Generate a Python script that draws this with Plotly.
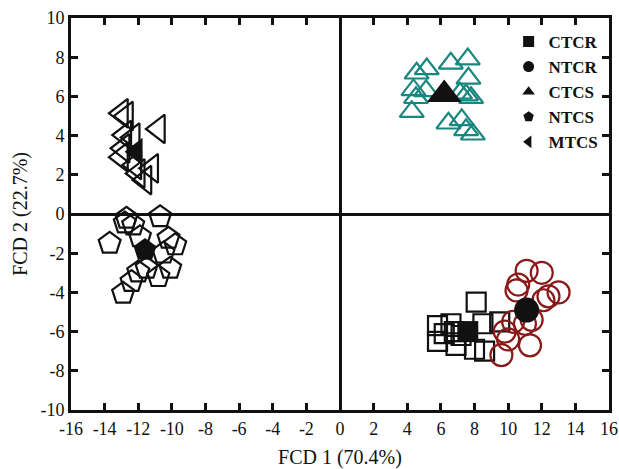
import plotly.graph_objects as go

# ---- data ----
ctcr_x = [5.8, 5.8, 6.6, 6.9, 8.1, 8.5, 9.5, 8.0, 8.6, 7.2, 6.2, 6.8]
ctcr_y = [-5.7, -6.5, -5.6, -6.7, -4.5, -5.6, -5.5, -6.9, -7.0, -6.2, -6.1, -6.0]
ctcr_c = [7.6, -6.0]

ntcr_x = [11.1, 12.0, 10.6, 10.5, 12.4, 13.0, 12.1, 11.4, 11.0, 9.8, 10.0, 11.3, 9.6, 10.3]
ntcr_y = [-2.9, -3.0, -3.6, -3.9, -4.2, -4.0, -4.4, -5.4, -5.6, -6.0, -6.4, -6.7, -7.2, -5.5]
ntcr_c = [11.1, -4.9]

ctcs_x = [4.56, 5.16, 6.59, 7.6, 7.64, 4.37, 5.12, 4.52, 4.27, 7.14, 7.5, 7.8, 6.45, 7.24, 7.5, 7.9]
ctcs_y = [7.18, 7.4, 7.69, 7.9, 6.92, 6.33, 6.28, 5.93, 5.22, 6.16, 6.07, 5.93, 4.63, 4.8, 4.29, 4.07]
ctcs_c = [6.2, 6.1]

ntcs_x = [-10.7, -12.7, -12.8, -12.3, -13.7, -11.9, -10.2, -9.8, -10.5, -10.1, -11.5, -10.8, -12.4, -12.9, -12.0]
ntcs_y = [-0.14, -0.22, -0.46, -0.56, -1.5, -1.16, -1.24, -1.58, -2.0, -2.77, -2.77, -3.2, -3.45, -4.05, -2.96]
ntcs_c = [-11.6, -1.84]

mtcs_x = [-13.0, -12.7, -10.8, -12.8, -12.3, -12.9, -13.0, -12.2, -12.0, -11.6, -11.2]
mtcs_y = [5.14, 5.0, 4.34, 4.03, 3.9, 3.35, 2.9, 2.5, 2.07, 1.73, 2.33]
mtcs_c = [-12.1, 3.18]

x_ticks = list(range(-16, 17, 2))
y_ticks = list(range(-10, 11, 2))

legend_names = ["CTCR", "NTCR", "CTCS", "NTCS", "MTCS"]
legend_symbols = ["square", "circle", "triangle-up", "pentagon", "triangle-left"]

TEAL = "#17877f"
RED = "#8a1a1a"
BLACK = "#111111"
FONT = "Liberation Serif"

fig = go.Figure()

groups = [
    (ctcr_x, ctcr_y, ctcr_c, "square", BLACK, 19, 21),
    (ntcr_x, ntcr_y, ntcr_c, "circle", RED, 22, 25),
    (ctcs_x, ctcs_y, ctcs_c, "triangle-up", TEAL, 21, 30),
    (ntcs_x, ntcs_y, ntcs_c, "pentagon", BLACK, 23, 24),
    (mtcs_x, mtcs_y, mtcs_c, "triangle-left", BLACK, 25, 24),
]

for gx, gy, gc, sym, col, sz, csz in groups:
    fig.add_trace(go.Scatter(
        x=gx, y=gy, mode="markers", showlegend=False, hoverinfo="skip",
        marker=dict(symbol=sym + "-open", size=sz, color=col, line=dict(width=2.2, color=col)),
    ))
for gx, gy, gc, sym, col, sz, csz in groups:
    fig.add_trace(go.Scatter(
        x=[gc[0]], y=[gc[1]], mode="markers", showlegend=False, hoverinfo="skip",
        marker=dict(symbol=sym, size=csz, color=BLACK, line=dict(width=0)),
    ))

for name, sym in zip(legend_names, legend_symbols):
    fig.add_trace(go.Scatter(
        x=[None], y=[None], mode="markers", name="<b>" + name + "</b>",
        marker=dict(symbol=sym, size=11, color=BLACK),
    ))

axis_common = dict(
    showgrid=False, showline=True, linecolor=BLACK, linewidth=3, mirror="ticks",
    ticks="inside", ticklen=7, tickwidth=3, tickcolor=BLACK,
    zeroline=True, zerolinecolor=BLACK, zerolinewidth=3, automargin=False,
    tickfont=dict(family=FONT, size=18, color=BLACK),
)

fig.update_layout(
    width=619, height=469,
    margin=dict(l=71, r=10, t=18, b=59),
    plot_bgcolor="white", paper_bgcolor="white",
    xaxis=dict(range=[-16, 16], tickvals=x_ticks, ticktext=[str(v) for v in x_ticks],
               title=dict(text="FCD 1 (70.4%)", font=dict(family=FONT, size=20, color=BLACK), standoff=14),
               **axis_common),
    yaxis=dict(range=[-10, 10], tickvals=y_ticks, ticktext=[str(v) for v in y_ticks],
               title=dict(text="FCD 2 (22.7%)", font=dict(family=FONT, size=20, color=BLACK), standoff=8),
               **axis_common),
    legend=dict(x=0.99, y=0.985, xanchor="right", yanchor="top", bgcolor="rgba(0,0,0,0)",
                font=dict(family=FONT, size=17, color=BLACK),
                itemwidth=30, tracegroupgap=0),
)

fig.write_html("out.html", config={"displayModeBar": False},
               post_script="document.body.style.margin='0';document.body.style.overflow='hidden';")
